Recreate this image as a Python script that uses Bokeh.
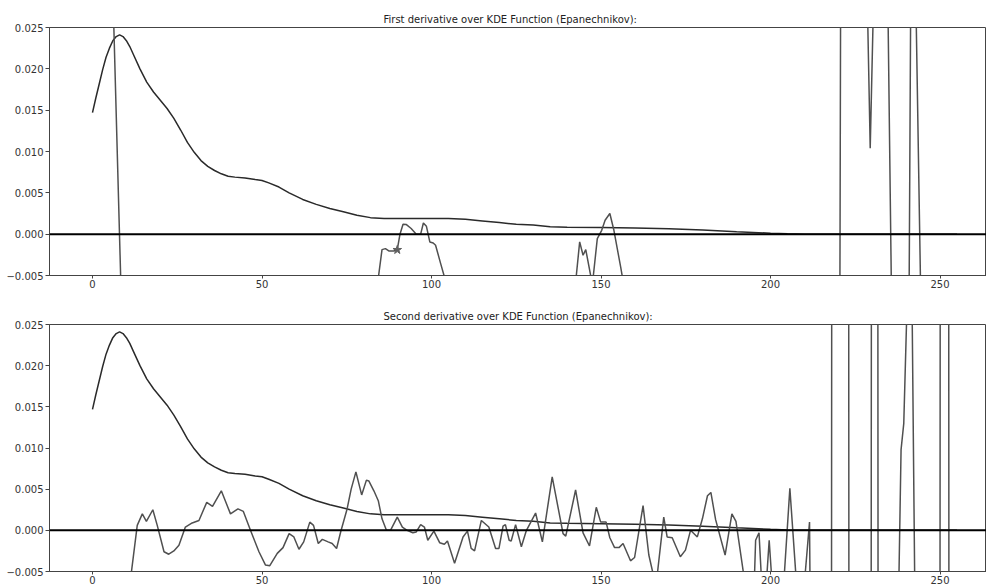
from bokeh.plotting import figure
from bokeh.layouts import column
from bokeh.models import Span, FixedTicker, CustomJSTickFormatter, Range1d
from bokeh.embed import file_html
from bokeh.resources import INLINE

# ---------------- data ----------------
kde_x = [0, 1, 2, 3, 4, 5, 6, 7, 8, 9, 10, 11, 12, 14, 16, 18, 20, 22, 24, 26, 28, 30,
         32, 34, 36, 38, 40, 42, 45, 48, 50, 52, 55, 58, 62, 66, 70, 74, 78, 82, 86, 90,
         95, 100, 105, 110, 115, 120, 125, 130, 135, 140, 150, 160, 170, 180, 190, 200,
         205, 210, 220, 255]
kde_y = [0.0147, 0.0165, 0.0182, 0.0199, 0.0214, 0.0225, 0.0234, 0.0239, 0.0241, 0.0239,
         0.0234, 0.0227, 0.0218, 0.0200, 0.0184, 0.0172, 0.0162, 0.0152, 0.0140, 0.0126,
         0.0111, 0.0099, 0.0089, 0.0082, 0.0077, 0.0073, 0.0070, 0.0069, 0.0068, 0.0066,
         0.0065, 0.0062, 0.0057, 0.0050, 0.0042, 0.0036, 0.0031, 0.0027, 0.0023, 0.0020,
         0.0019, 0.0019, 0.0019, 0.0019, 0.0019, 0.0018, 0.0016, 0.0014, 0.0012, 0.0011,
         0.0009, 0.00085, 0.0008, 0.00075, 0.00065, 0.0005, 0.0003, 0.00012, 0.00005,
         0.0, 0.0, 0.0]

d1_x = [0, 3, 6, 9, 12, 20, 40, 60, 80, 83.5, 85.4, 86.4, 87.4, 88.9, 89.9, 90.7, 91.6,
        92.6, 94.0, 95.5, 96.8, 97.6, 98.5, 99.5, 100.5, 101.2, 102.7, 105, 120, 140, 142,
        143.7, 144.7, 145.5, 147.45, 148.9, 150.2, 151.2, 152.6, 153.8, 155.8, 157.3, 160,
        190, 210, 219.9, 221.1, 225, 228, 229.4, 231, 234, 236, 240.5, 241.7, 242.5, 245,
        250, 255]
d1_y = [0.09, 0.06, 0.0295, -0.0155, -0.035, -0.04, -0.03, -0.02, -0.012, -0.0078,
        -0.00187, -0.00175, -0.00203, -0.00203, -0.00187, 0.0, 0.0012, 0.00116, 0.00068,
        0.0, 0.0, 0.00135, 0.00095, -0.00094, -0.00106, -0.00134, -0.00356, -0.0069,
        -0.01, -0.008, -0.0079, -0.00094, -0.00255, -0.00187, -0.0061, -0.00054, 0.00047,
        0.00168, 0.0025, 0.00047, -0.004, -0.0075, -0.012, -0.02, -0.03, -0.1, 0.1, 0.06,
        0.0397, 0.0104, 0.0396, 0.0483, -0.0183, -0.035, 0.055, 0.0375, -0.025, -0.04,
        -0.02]

d2_x = [0, 5, 10.5, 13.2, 14.7, 15.9, 17.8, 19.1, 21.1, 22.5, 24.0, 25.5, 27.4, 29.4,
        31.4, 33.7, 35.4, 38.0, 40.7, 42.9, 44.5, 46.6, 49.1, 51.0, 52.3, 54.5, 56.2, 58.0,
        59.4, 60.9, 62.3, 64.1, 65.2, 66.6, 67.8, 69.5, 70.7, 72.0, 73.2, 75.1, 76.3, 77.7,
        79.4, 80.8, 81.5, 83.0, 84.3, 85.4, 86.7, 87.9, 89.9, 91.4, 92.8, 94.5, 95.5, 96.8,
        97.9, 98.9, 100.7, 102.4, 103.8, 104.7, 106.8, 109.3, 110.6, 111.7, 112.7, 114.7,
        116.9, 118.9, 119.9, 121.1, 121.8, 122.9, 123.5, 124.8, 126.5, 128.0, 130.7, 132.7,
        135.6, 138.8, 139.6, 142.5, 144.7, 146.6, 148.6, 149.9, 151.5, 152.6, 154.0, 155.3,
        156.5, 158.7, 159.9, 162.4, 164.1, 166.2, 168.5, 169.5, 171.0, 173.4, 174.9, 176.4,
        178.4, 179.9, 181.4, 182.4, 183.8, 186.6, 188.6, 189.8, 194.7, 195.6, 196.6, 198.0,
        199.6, 202.2, 205.7, 208.7, 211.5, 212.5, 215, 217.7, 218.3, 222.8, 223.4, 229.4,
        230.0, 231.4, 232.0, 237.5, 238.5, 239.3, 240.5, 241.5, 242.8, 249.7, 250.3, 252.3,
        252.9, 255]
d2_y = [-0.08, -0.05, -0.0083, 0.0006, 0.0020, 0.0011, 0.0025, 0.0006, -0.0026, -0.0029,
        -0.0025, -0.0018, 0.0004, 0.0009, 0.0012, 0.0034, 0.0029, 0.0048, 0.0020, 0.0026,
        0.0023, 0.0, -0.0026, -0.0042, -0.0043, -0.0028, -0.0021, -0.0004, -0.0008,
        -0.0023, -0.0014, 0.0010, 0.0006, -0.0016, -0.0011, -0.0014, -0.0016, -0.0022,
        -0.0002, 0.0026, 0.0050, 0.0071, 0.0043, 0.0061, 0.0060, 0.0048, 0.0036, 0.0014,
        0.0, 0.0, 0.0016, 0.0004, 0.0, -0.0003, -0.0002, 0.0007, 0.0004, -0.0012, -0.0001,
        -0.0015, -0.0017, -0.0013, -0.0040, -0.0008, -0.0001, -0.0022, -0.0025, 0.0012,
        0.0004, -0.0022, -0.0022, 0.0005, 0.0007, -0.0012, -0.0013, 0.0007, -0.0020, 0.0,
        0.0021, -0.0014, 0.0065, -0.0004, -0.0007, 0.0049, -0.0003, -0.0019, 0.0028,
        0.0010, 0.0010, -0.0009, -0.0021, -0.0021, -0.0016, -0.0037, -0.0033, 0.0030,
        -0.0030, -0.0068, 0.0016, -0.0008, -0.0009, -0.0032, -0.0024, 0.0, -0.0008, 0.0014,
        0.0042, 0.0046, 0.0013, -0.0030, 0.0020, 0.0011, -0.0128, -0.0012, -0.0003,
        -0.0112, -0.0012, -0.0173, 0.0051, -0.0127, 0.0010, -0.05, -0.1, -0.2, 0.2, 0.2,
        -0.2, -0.2, 0.2, 0.2, -0.2, -0.0149, 0.0098, 0.0130, 0.031, 0.038, -0.018, -0.2,
        0.2, 0.2, -0.2, -0.1]

star_x = [89.9]
star_y = [-0.0019]

x_ticks = [0, 50, 100, 150, 200, 250]
y_ticks = [-0.005, 0.0, 0.005, 0.010, 0.015, 0.020, 0.025]
titles = ["First derivative over KDE Function (Epanechnikov):",
          "Second derivative over KDE Function (Epanechnikov):"]

FONT = "DejaVu Sans"
LEFT = 49
FRAME_W = 937


def make_fig(title, frame_h, top, bottom, dx, dy, star):
    p = figure(output_backend="svg", toolbar_location=None,
               frame_width=FRAME_W, frame_height=frame_h,
               min_border_left=LEFT, min_border_right=0,
               min_border_top=top, min_border_bottom=bottom,
               x_range=Range1d(-12.68, 263.7), y_range=Range1d(-0.005, 0.025),
               background_fill_color="white", border_fill_color="white")
    p.title.text = title
    p.title.text_font = FONT
    p.title.text_font_size = "10px"
    p.title.text_font_style = "normal"
    p.title.text_color = "#222222"
    p.title.align = "left"
    p.title.offset = 334
    p.title.standoff = 5
    p.grid.visible = False
    p.outline_line_color = "#444444"
    p.outline_line_width = 1
    for ax in (p.xaxis[0], p.yaxis[0]):
        ax.axis_line_color = "#444444"
        ax.major_tick_line_color = "#444444"
        ax.minor_tick_line_color = None
        ax.major_tick_out = 4
        ax.major_tick_in = 0
        ax.major_label_standoff = 2
        ax.major_label_text_font = FONT
        ax.major_label_text_font_size = "10px"
        ax.major_label_text_color = "#333333"
    p.xaxis[0].major_tick_out = 3
    p.xaxis[0].major_label_standoff = 1
    p.xaxis[0].ticker = FixedTicker(ticks=x_ticks)
    p.xaxis[0].formatter = CustomJSTickFormatter(code="return tick.toFixed(0);")
    p.yaxis[0].ticker = FixedTicker(ticks=y_ticks)
    p.yaxis[0].formatter = CustomJSTickFormatter(
        code="return (tick < -1e-9 ? '\\u2212' : '') + Math.abs(tick).toFixed(3);")

    p.line(kde_x, kde_y, line_color="#2a2a2a", line_width=1.5)
    p.line(dx, dy, line_color="#505050", line_width=1.5)
    if star:
        p.scatter(star_x, star_y, marker="star", size=9,
                  fill_color="#606060", line_color="#606060")
    p.add_layout(Span(location=0, dimension="width", line_color="black", line_width=2))
    return p


p1 = make_fig(titles[0], 248, 27, 21, d1_x, d1_y, True)
p2 = make_fig(titles[1], 247, 28, 16, d2_x, d2_y, False)
layout = column(p1, p2, spacing=0)

open("out.html", "w").write(file_html(layout, INLINE))
